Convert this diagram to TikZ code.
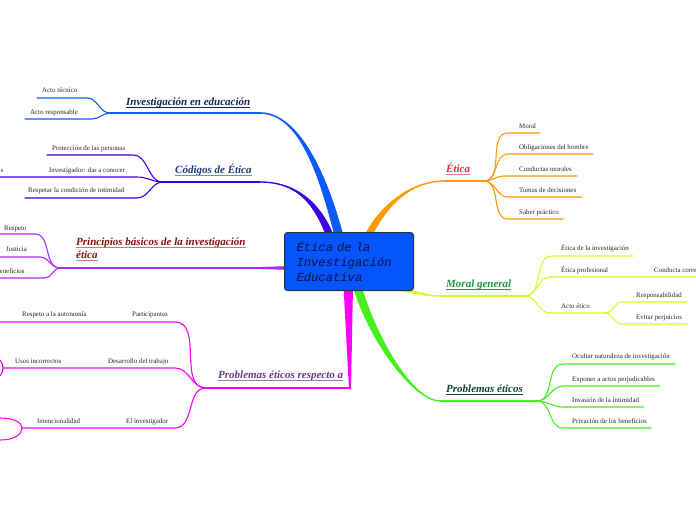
\documentclass[tikz,border=0pt]{standalone}
\usepackage{fontspec}
\setmainfont{Liberation Serif}
\newfontfamily\monoit{Liberation Mono}
\usetikzlibrary{calc}
\definecolor{cblue}{RGB}{15,90,255}
\definecolor{cindigo}{RGB}{60,0,230}
\definecolor{cviolet}{RGB}{175,40,255}
\definecolor{cmag}{RGB}{255,0,255}
\definecolor{corange}{RGB}{255,155,0}
\definecolor{cyell}{RGB}{215,250,40}
\definecolor{cgreen}{RGB}{70,240,30}
\definecolor{boxfill}{RGB}{5,85,255}
\definecolor{boxline}{RGB}{40,50,80}
\definecolor{boxtext}{RGB}{15,20,60}
\definecolor{leafgray}{RGB}{40,40,40}
\definecolor{tA}{RGB}{20,35,100}
\definecolor{tB}{RGB}{30,60,140}
\definecolor{uB}{RGB}{120,140,200}
\definecolor{tC}{RGB}{140,15,15}
\definecolor{uC}{RGB}{200,120,120}
\definecolor{tD}{RGB}{100,60,140}
\definecolor{uD}{RGB}{150,120,180}
\definecolor{tE}{RGB}{225,40,70}
\definecolor{uE}{RGB}{235,120,140}
\definecolor{tF}{RGB}{30,150,60}
\definecolor{tG}{RGB}{15,70,50}
\newcommand\leaffont{\fontsize{6.9}{8}\selectfont}
\newcommand\labfont{\fontsize{11}{13}\selectfont\bfseries\itshape}
\newcommand\taper[7]{\fill[#1] ($#2+#6$) .. controls ($#3+#6$) and ($#4+#7$) .. ($#5+#7$) -- ($#5-#7$) .. controls ($#4-#7$) and ($#3-#6$) .. ($#2-#6$) -- cycle;}
\tikzset{
  leaf/.style={font=\leaffont, text=leafgray, inner sep=0pt, anchor=base west},
  lab/.style={font=\labfont, inner sep=0pt, anchor=base west},
  br/.style={line width=1.1pt, line cap=round},
  mainln/.style={line width=1.5pt, line cap=round},
  uline/.style={line width=0.8pt},
  centerbox/.style={draw=boxline, fill=boxfill, line width=1pt, rounded corners=3pt,
    anchor=north west, minimum width=129pt, minimum height=58pt, text width=105pt,
    inner xsep=12pt, inner ysep=0pt, align=left, text=boxtext,
    font=\monoit\itshape\fontsize{12.2}{14.7}\selectfont}
}
\begin{document}
\begin{tikzpicture}[x=1pt,y=-1pt]
\useasboundingbox (0,0) rectangle (696,520);
\fill[white] (0,0) rectangle (696,520);

% ---------- junction coordinates ----------
\coordinate (J1) at (110,113);
\coordinate (J2) at (163,182);
\coordinate (J3) at (60,268);
\coordinate (J4) at (206,388);
\coordinate (J5) at (484,181);
\coordinate (J6) at (525,296);
\coordinate (J7) at (605,313);
\coordinate (J8) at (537,401);

% ---------- main branches ----------
\coordinate (b1s) at (260,113); \coordinate (b1e) at (339,236);
\taper{cblue}{(b1s)}{(300,113)}{(324,178)}{(b1e)}{(0,0.8)}{(-4.5,0)}
\draw[mainln,cblue] (J1) -- (b1s);

\coordinate (b2s) at (260,182); \coordinate (b2e) at (330,236);
\taper{cindigo}{(b2s)}{(298,182)}{(318,205)}{(b2e)}{(0,0.7)}{(-4,0)}
\draw[mainln,cindigo] (J2) -- (b2s);

\coordinate (b3s) at (250,268); \coordinate (b3e) at (288,268);
\draw[mainln,cviolet] (J3) -- (b3e);
\taper{cviolet}{(b3s)}{(262,268)}{(275,268)}{(b3e)}{(0,0.7)}{(0,1.8)}

\coordinate (b4c) at (350,388); \coordinate (b4e) at (348,286);
\draw[mainln,cmag] (J4) -- (b4c);
\fill[cmag] (349,389) -- (343.5,286) -- (353,286) -- (351,389) -- cycle;

\coordinate (b5s) at (445,181); \coordinate (b5e) at (368,236);
\taper{corange}{(b5s)}{(412,181)}{(385,203)}{(b5e)}{(0,0.7)}{(4,0)}
\draw[mainln,corange] (b5s) -- (J5);

\coordinate (b6s) at (440,296); \coordinate (b6e) at (400,289);
\taper{cyell}{(b6s)}{(425,296)}{(412,291)}{(b6e)}{(0,0.7)}{(0,2)}
\draw[mainln,cyell] (b6s) -- (J6);

\coordinate (b8s) at (440,401); \coordinate (b8e) at (357,286);
\taper{cgreen}{(b8s)}{(415,401)}{(375,345)}{(b8e)}{(0,-0.7)}{(4.5,0)}
\draw[mainln,cgreen] (b8s) -- (J8);

% ---------- central node ----------
\node[centerbox] (cen) at (284,232) {Ética de la\\Investigación\\Educativa};

% ---------- Investigación en educación ----------
\node[lab,text=tA] (t1) at (126,105) {Investigación en educación};
\draw[uline,tA] ($(t1.base west)+(0,2)$) -- ($(t1.base east)+(0,2)$);
\node[leaf] (l11) at (42,92) {Acto técnico};
\coordinate (l11a) at (37,98); \coordinate (l11b) at (87,98);
\draw[br,cblue] (l11a) -- (l11b) to[out=0,in=180] (J1);
\node[leaf] (l12) at (30,114) {Acto responsable};
\coordinate (l12a) at (25,119); \coordinate (l12b) at (92,119);
\draw[br,cblue] (l12a) -- (l12b) to[out=0,in=180] (J1);

% ---------- Códigos de Ética ----------
\node[lab,text=tB] (t2) at (175,173) {Códigos de Ética};
\draw[uline,uB] ($(t2.base west)+(0,2)$) -- ($(t2.base east)+(0,2)$);
\node[leaf] (l21) at (52,150) {Protección de las personas};
\coordinate (l21a) at (47,155); \coordinate (l21b) at (133,155);
\draw[br,cindigo] (l21a) -- (l21b) to[out=0,in=180] (J2);
\node[leaf] (l22) at (49,172) {Investigador: dar a conocer};
\node[leaf,anchor=base east] (l22c) at (3.5,172) {s};
\coordinate (l22a) at (0,177); \coordinate (l22b) at (137,177);
\draw[br,cindigo] (l22a) -- (l22b) to[out=0,in=180] (J2);
\node[leaf] (l23) at (28,192) {Respetar la condición de intimidad};
\coordinate (l23a) at (25,198); \coordinate (l23b) at (137,198);
\draw[br,cindigo] (l23a) -- (l23b) to[out=0,in=180] (J2);

% ---------- Principios básicos ----------
\node[lab,text=tC] (t3a) at (76,245) {Principios básicos de la investigación};
\node[lab,text=tC] (t3b) at (76,258.5) {ética};
\draw[uline,uC] ($(t3a.base west)+(0,2)$) -- ($(t3a.base east)+(0,2)$);
\draw[uline,uC] ($(t3b.base west)+(0,2)$) -- ($(t3b.base east)+(0,2)$);
\node[leaf] (l31) at (4,230) {Respeto};
\coordinate (l31a) at (0,234); \coordinate (l31b) at (35,234);
\draw[br,cviolet] (l31a) -- (l31b) to[out=0,in=180] (J3);
\node[leaf] (l32) at (6,251.5) {Justicia};
\coordinate (l32a) at (0,257); \coordinate (l32b) at (40,257);
\draw[br,cviolet] (l32a) -- (l32b) to[out=0,in=180] (J3);
\node[leaf] (l33) at (-0.5,273) {eneficios};
\coordinate (l33a) at (0,278); \coordinate (l33b) at (45,278);
\draw[br,cviolet] (l33a) -- (l33b) to[out=0,in=180] (J3);

% ---------- Problemas éticos respecto a ----------
\node[lab,text=tD] (t4) at (218,378.5) {Problemas éticos respecto a};
\draw[uline,uD] ($(t4.base west)+(0,2)$) -- ($(t4.base east)+(0,2)$);
\node[leaf] (l41) at (132,316.5) {Participantes};
\node[leaf] (l41c) at (22,316.5) {Respeto a la autonomía};
\coordinate (l41a) at (0,322); \coordinate (l41b) at (175,322);
\draw[br,cmag] (l41a) -- (l41b) to[out=0,in=180] (J4);
\node[leaf] (l42) at (108,363) {Desarrollo del trabajo};
\node[leaf] (l42c) at (15,363) {Usos incorrectos};
\coordinate (l42a) at (3,368); \coordinate (l42b) at (175,368);
\draw[br,cmag] (l42a) -- (l42b) to[out=0,in=180] (J4);
\draw[br,cmag] (0,360) .. controls (2,362) and (3,365) .. (l42a) .. controls (3,371) and (2,374) .. (0,376);
\node[leaf] (l43) at (126,423.5) {El investigador};
\node[leaf] (l43c) at (37,423.5) {Intencionalidad};
\coordinate (l43a) at (22,428); \coordinate (l43b) at (175,428);
\draw[br,cmag] (l43a) -- (l43b) to[out=0,in=180] (J4);
\draw[br,cmag] (0,418) .. controls (15,418) and (22,423) .. (l43a) .. controls (22,434) and (15,440) .. (0,440);

% ---------- Ética ----------
\node[lab,text=tE] (t5) at (446,172) {Ética};
\draw[uline,uE] ($(t5.base west)+(0,2)$) -- ($(t5.base east)+(0,2)$);
\node[leaf] (l51) at (519,128) {Moral};
\coordinate (l51a) at (508,133); \coordinate (l51b) at (540,133);
\draw[br,corange] (J5) to[out=0,in=180] (l51a) -- (l51b);
\node[leaf] (l52) at (519,149) {Obligaciones del hombre};
\coordinate (l52a) at (508,154); \coordinate (l52b) at (593,154);
\draw[br,corange] (J5) to[out=0,in=180] (l52a) -- (l52b);
\node[leaf] (l53) at (519,171) {Conductas morales};
\coordinate (l53a) at (505,176); \coordinate (l53b) at (577,176);
\draw[br,corange] (J5) to[out=0,in=180] (l53a) -- (l53b);
\node[leaf] (l54) at (519,192) {Tomas de decisiones};
\coordinate (l54a) at (508,197); \coordinate (l54b) at (582,197);
\draw[br,corange] (J5) to[out=0,in=180] (l54a) -- (l54b);
\node[leaf] (l55) at (519,214) {Saber práctico};
\coordinate (l55a) at (508,219); \coordinate (l55b) at (563,219);
\draw[br,corange] (J5) to[out=0,in=180] (l55a) -- (l55b);

% ---------- Moral general ----------
\node[lab,text=tF] (t6) at (446,287) {Moral general};
\draw[uline,tF] ($(t6.base west)+(0,2)$) -- ($(t6.base east)+(0,2)$);
\node[leaf] (l61) at (561,250.5) {Ética de la investigación};
\coordinate (l61a) at (552,256); \coordinate (l61b) at (633,256);
\draw[br,cyell] (J6) to[out=0,in=180] (l61a) -- (l61b);
\node[leaf] (l62) at (561,272) {Ética profesional};
\node[leaf] (l62c) at (654,272) {Conducta corre};
\coordinate (l62a) at (550,277); \coordinate (l62b) at (696,277);
\draw[br,cyell] (J6) to[out=0,in=180] (l62a) -- (l62b);
\node[leaf] (l63) at (561,308) {Acto ético};
\coordinate (l63a) at (550,313);
\draw[br,cyell] (J6) to[out=0,in=180] (l63a) -- (J7);
\node[leaf] (l631) at (636,297) {Responsabilidad};
\coordinate (l631a) at (622,302); \coordinate (l631b) at (687,302);
\draw[br,cyell] (J7) to[out=0,in=180] (l631a) -- (l631b);
\node[leaf] (l632) at (636,319) {Evitar perjuicios};
\coordinate (l632a) at (622,324); \coordinate (l632b) at (687,324);
\draw[br,cyell] (J7) to[out=0,in=180] (l632a) -- (l632b);

% ---------- Problemas éticos ----------
\node[lab,text=tG] (t8) at (446,392) {Problemas éticos};
\draw[uline,tG] ($(t8.base west)+(0,2)$) -- ($(t8.base east)+(0,2)$);
\node[leaf] (l81) at (572,358.5) {Ocultar naturaleza de investigación};
\coordinate (l81a) at (563,364); \coordinate (l81b) at (675,364);
\draw[br,cgreen] (J8) to[out=0,in=180] (l81a) -- (l81b);
\node[leaf] (l82) at (572,381) {Exponer a actos perjudicables};
\coordinate (l82a) at (563,386); \coordinate (l82b) at (660,386);
\draw[br,cgreen] (J8) to[out=0,in=180] (l82a) -- (l82b);
\node[leaf] (l83) at (572,402) {Invasión de la intimidad};
\coordinate (l83a) at (563,407); \coordinate (l83b) at (644,407);
\draw[br,cgreen] (J8) to[out=0,in=180] (l83a) -- (l83b);
\node[leaf] (l84) at (572,423.5) {Privación de los beneficios};
\coordinate (l84a) at (563,428); \coordinate (l84b) at (651,428);
\draw[br,cgreen] (J8) to[out=0,in=180] (l84a) -- (l84b);
\end{tikzpicture}
\end{document}
